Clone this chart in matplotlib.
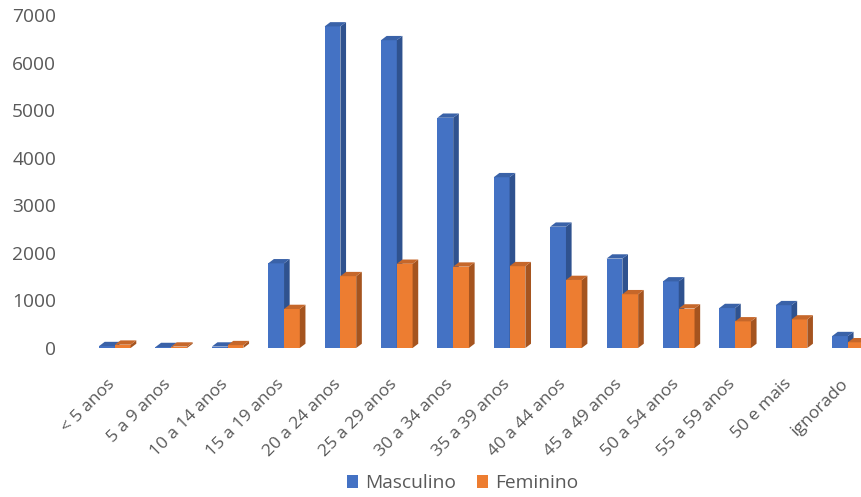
import matplotlib.pyplot as plt
import matplotlib.transforms as mtransforms
from matplotlib.patches import Polygon
import numpy as np

# --- Data ---
faixas = ["< 5 anos", "5 a 9 anos", "10 a 14 anos", "15 a 19 anos", "20 a 24 anos",
          "25 a 29 anos", "30 a 34 anos", "35 a 39 anos", "40 a 44 anos", "45 a 49 anos",
          "50 a 54 anos", "55 a 59 anos", "50 e mais", "ignorado"]
masculino = [40, 20, 30, 1780, 6760, 6470, 4840, 3590, 2550, 1880, 1400, 840, 900, 250]
feminino = [70, 30, 60, 820, 1510, 1770, 1710, 1720, 1430, 1130, 830, 560, 600, 120]

COR_MASC = ("#4472C4", "#2F528F", "#3A62A8")   # front, side, top
COR_FEM = ("#ED7D31", "#A5541F", "#C6672A")
TEXT_GREY = "#595959"
FONT = "Open Sans"
FS = 13.8
FS_X = 12.6

BAR_W = 0.28
DEPTH_X = 0.10   # in category units
DEPTH_Y = 90     # in value units


def draw_3d_bar(ax, x0, h, cores):
    front, side, top = cores
    x1 = x0 + BAR_W
    ax.add_patch(Polygon([(x0, 0), (x1, 0), (x1, h), (x0, h)],
                         closed=True, fc=front, ec="none", clip_on=False))
    ax.add_patch(Polygon([(x1, 0), (x1 + DEPTH_X, DEPTH_Y), (x1 + DEPTH_X, h + DEPTH_Y), (x1, h)],
                         closed=True, fc=side, ec="none", clip_on=False))
    ax.add_patch(Polygon([(x0, h), (x1, h), (x1 + DEPTH_X, h + DEPTH_Y), (x0 + DEPTH_X, h + DEPTH_Y)],
                         closed=True, fc=top, ec="none", clip_on=False))


fig = plt.figure(figsize=(8.62, 4.97), dpi=100)
ax = fig.add_axes([0.094, 0.2998, 0.906, 0.670])

x = np.arange(len(faixas))
for i in x:
    draw_3d_bar(ax, i - BAR_W, masculino[i], COR_MASC)
for i in x:
    draw_3d_bar(ax, i, feminino[i], COR_FEM)

ax.set_xlim(-0.6, 13.25)
ax.set_ylim(0, 7000)
ax.set_yticks(range(0, 7001, 1000))
ax.tick_params(axis="y", length=0, labelsize=FS, labelcolor=TEXT_GREY, pad=18)
ax.set_xticks(x)
ax.set_xticklabels(faixas, rotation=45, ha="right", rotation_mode="anchor",
                   fontsize=FS_X, color=TEXT_GREY)
ax.tick_params(axis="x", length=0, pad=20)
# nudge the slanted labels a little to the left
shift = mtransforms.ScaledTranslation(-8 / 100, 0, fig.dpi_scale_trans)
for lbl in ax.get_xticklabels():
    lbl.set_transform(lbl.get_transform() + shift)
for lbl in ax.get_xticklabels() + ax.get_yticklabels():
    lbl.set_fontfamily(FONT)
for s in ax.spines.values():
    s.set_visible(False)

# legend proxies
h1 = plt.Rectangle((0, 0), 1, 1, fc=COR_MASC[0])
h2 = plt.Rectangle((0, 0), 1, 1, fc=COR_FEM[0])
leg = fig.legend([h1, h2], ["Masculino", "Feminino"], loc="center", ncol=2,
                 bbox_to_anchor=(0.537, 0.028), frameon=False, handlelength=0.55,
                 handleheight=0.7, handletextpad=0.4, columnspacing=1.1,
                 prop={"family": FONT, "size": FS})
for t in leg.get_texts():
    t.set_color(TEXT_GREY)

fig.savefig("out.png", dpi=100)
